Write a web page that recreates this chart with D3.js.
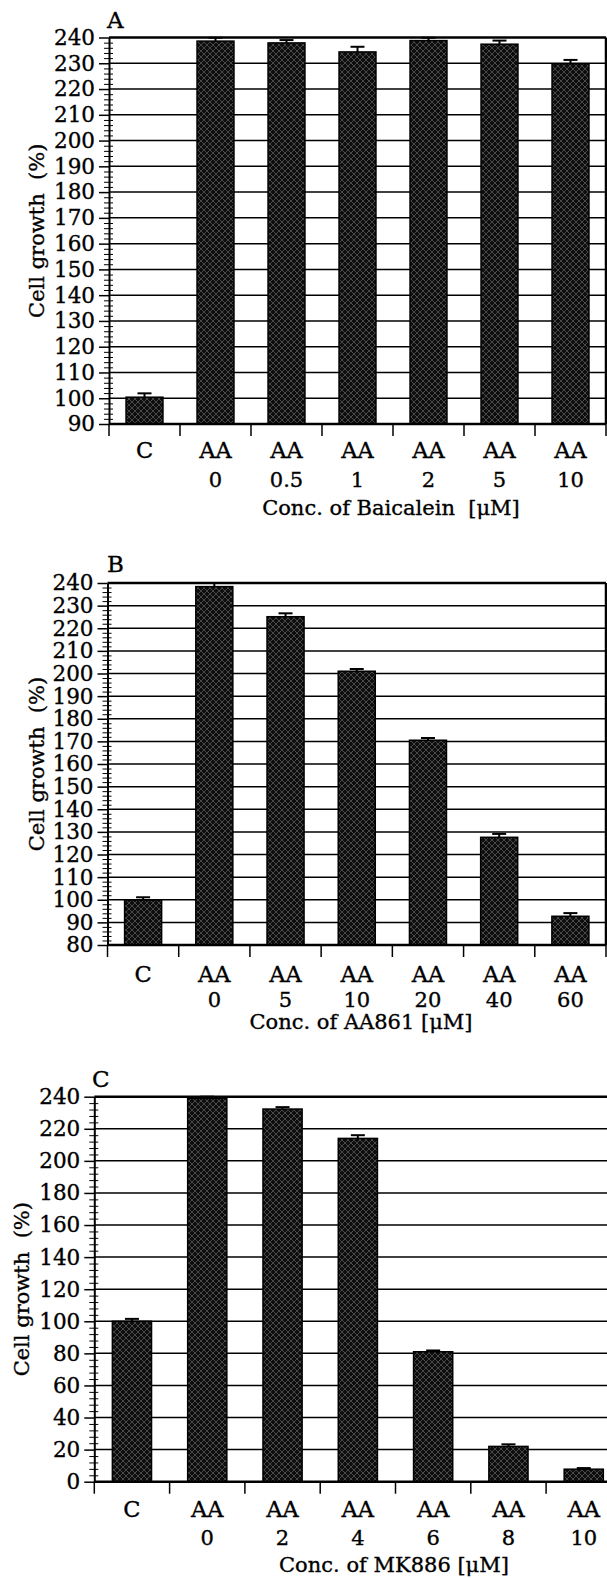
<!DOCTYPE html>
<html>
<head>
<meta charset="utf-8">
<script src="https://cdn.jsdelivr.net/npm/d3@7"></script>
<style>
  body { margin: 0; background: #fff; }
  svg { display: block; font-family: "DejaVu Serif", serif; }
  text { stroke: #000; stroke-width: 0.35px; }
</style>
</head>
<body>
<script>
const width = 607
const height = 1578

// panel A - Baicalein
const catTopA = ['C', 'AA', 'AA', 'AA', 'AA', 'AA', 'AA']
const catBottomA = ['', '0', '0.5', '1', '2', '5', '10']
const valuesA = [100.4, 238.6, 237.9, 234.4, 238.8, 237.4, 229.8]
const errorsA = [1.5, 1.3, 1.1, 2.0, 1.1, 1.4, 1.5]
const ticksA = [90, 100, 110, 120, 130, 140, 150, 160, 170, 180, 190, 200, 210, 220, 230, 240]

// panel B - AA861
const catTopB = ['C', 'AA', 'AA', 'AA', 'AA', 'AA', 'AA']
const catBottomB = ['', '0', '5', '10', '20', '40', '60']
const valuesB = [99.9, 238.4, 225.1, 201.0, 170.5, 127.6, 92.7]
const errorsB = [1.2, 1.6, 1.5, 1.0, 1.0, 1.5, 1.4]
const ticksB = [80, 90, 100, 110, 120, 130, 140, 150, 160, 170, 180, 190, 200, 210, 220, 230, 240]

// panel C - MK886
const catTopC = ['C', 'AA', 'AA', 'AA', 'AA', 'AA', 'AA']
const catBottomC = ['', '0', '2', '4', '6', '8', '10']
const valuesC = [100.0, 239.0, 232.3, 214.0, 81.0, 22.0, 7.8]
const errorsC = [1.5, 1.0, 1.2, 2.0, 0.8, 1.3, 0.7]
const ticksC = [0, 20, 40, 60, 80, 100, 120, 140, 160, 180, 200, 220, 240]

let svg = d3.select('body')
            .append('svg')
            .attr('width', width)
            .attr('height', height)

let defs = svg.append('defs')
let pat = defs.append('pattern')
              .attr('id', 'hatch')
              .attr('patternUnits', 'userSpaceOnUse')
              .attr('width', 6)
              .attr('height', 6)
pat.append('rect').attr('width', 6).attr('height', 6).attr('fill', '#0e0e0e')
pat.append('path')
   .attr('d', 'M0,0 L6,6 M6,0 L0,6 M-1,5 L1,7 M5,-1 L7,1')
   .attr('stroke', '#6e6e6e')
   .attr('stroke-width', 0.6)

function drawPanel(p) {
  let g = svg.append('g')

  let x = d3.scaleBand().domain(d3.range(p.values.length)).range([p.left, p.right])
  let y = d3.scaleLinear().domain(p.domain).range([p.bottom, p.top])
  let bw = x.bandwidth()

  // grid lines
  g.selectAll('.grid')
   .data(p.ticks)
   .enter()
   .append('line')
   .attr('x1', p.left).attr('x2', p.right)
   .attr('y1', d => y(d)).attr('y2', d => y(d))
   .attr('stroke', '#000')
   .attr('stroke-width', d => d === p.domain[1] ? 2.5 : 1.5)

  // right border
  g.append('line')
   .attr('x1', p.right).attr('x2', p.right)
   .attr('y1', y(p.domain[1])).attr('y2', y(p.domain[0]))
   .attr('stroke', '#000').attr('stroke-width', 2.5)

  // bars
  g.selectAll('.bar')
   .data(p.values)
   .enter()
   .append('rect')
   .attr('x', (d, i) => x(i) + bw * 0.24)
   .attr('y', d => y(d))
   .attr('width', bw * 0.52)
   .attr('height', d => y(p.domain[0]) - y(d))
   .attr('fill', 'url(#hatch)')
   .attr('stroke', '#000')
   .attr('stroke-width', 1.5)

  // error bars (upper half only)
  g.selectAll('.err')
   .data(p.values)
   .enter()
   .append('line')
   .attr('x1', (d, i) => x(i) + bw / 2).attr('x2', (d, i) => x(i) + bw / 2)
   .attr('y1', d => y(d)).attr('y2', (d, i) => y(d + p.errors[i]))
   .attr('stroke', '#000').attr('stroke-width', 2)
  g.selectAll('.cap')
   .data(p.values)
   .enter()
   .append('line')
   .attr('x1', (d, i) => x(i) + bw / 2 - 7).attr('x2', (d, i) => x(i) + bw / 2 + 7)
   .attr('y1', (d, i) => y(d + p.errors[i])).attr('y2', (d, i) => y(d + p.errors[i]))
   .attr('stroke', '#000').attr('stroke-width', 2)

  // y axis
  let yAxis = d3.axisLeft(y).tickValues(p.ticks).tickSize(10).tickSizeOuter(0).tickPadding(4)
  let gy = g.append('g')
            .attr('transform', `translate(${p.left}, 0)`)
            .call(yAxis)
  gy.select('.domain').attr('stroke-width', 2)
  gy.selectAll('.tick line').attr('stroke-width', 1.5)
  gy.selectAll('.tick text')
    .attr('font-family', '"DejaVu Serif", serif')
    .attr('font-size', 21.5)
    .attr('fill', '#000')

  let minor = d3.range(p.domain[0], p.domain[1] + 0.01, p.minorStep).filter(v => !p.ticks.includes(v))
  let gm = g.append('g')
            .attr('transform', `translate(${p.left + 4}, 0)`)
            .call(d3.axisLeft(y).tickValues(minor).tickSize(9).tickFormat(''))
  gm.select('.domain').remove()
  gm.selectAll('.tick line').attr('stroke-width', 1)

  // x axis line and category separators
  g.append('line')
   .attr('x1', p.left).attr('x2', p.right)
   .attr('y1', y(p.domain[0])).attr('y2', y(p.domain[0]))
   .attr('stroke', '#000').attr('stroke-width', 2.5)
  let seps = d3.range(p.values.length + 1)
  g.selectAll('.sep')
   .data(seps)
   .enter()
   .append('line')
   .attr('x1', d => p.left + d * bw).attr('x2', d => p.left + d * bw)
   .attr('y1', y(p.domain[0])).attr('y2', y(p.domain[0]) + 12)
   .attr('stroke', '#000').attr('stroke-width', 1.5)

  // category labels
  g.selectAll('.cat1')
   .data(p.catTop)
   .enter()
   .append('text')
   .attr('x', (d, i) => x(i) + bw / 2)
   .attr('y', p.row1)
   .attr('text-anchor', 'middle')
   .attr('font-size', 22.5)
   .text(d => d)
  g.selectAll('.cat2')
   .data(p.catBottom)
   .enter()
   .append('text')
   .attr('x', (d, i) => x(i) + bw / 2)
   .attr('y', p.row2)
   .attr('text-anchor', 'middle')
   .attr('font-size', 21)
   .text(d => d)

  // titles
  g.append('text')
   .attr('x', p.titleX)
   .attr('y', p.titleY)
   .attr('text-anchor', 'middle')
   .attr('font-size', 21)
   .style('white-space', 'pre')
   .text(p.title)

  g.append('text')
   .attr('transform', `translate(${p.ylabelX}, ${(p.top + p.bottom) / 2}) rotate(-90)`)
   .attr('text-anchor', 'middle')
   .attr('dy', '0.35em')
   .attr('font-size', 21)
   .style('white-space', 'pre')
   .text('Cell growth  (%)')

  g.append('text')
   .attr('x', p.letterX)
   .attr('y', p.letterY)
   .attr('font-size', 23)
   .text(p.letter)
}

drawPanel({
  values: valuesA, errors: errorsA, ticks: ticksA, catTop: catTopA, catBottom: catBottomA,
  domain: [90, 240], minorStep: 2,
  left: 109, right: 606, top: 37.5, bottom: 424,
  row1: 458, row2: 487, titleX: 391, titleY: 515, title: 'Conc. of Baicalein  [μM]',
  ylabelX: 37, letter: 'A', letterX: 107, letterY: 28
})

drawPanel({
  values: valuesB, errors: errorsB, ticks: ticksB, catTop: catTopB, catBottom: catBottomB,
  domain: [80, 240], minorStep: 2,
  left: 107.5, right: 606, top: 583, bottom: 945,
  row1: 982, row2: 1007, titleX: 361, titleY: 1029, title: 'Conc. of AA861 [μM]',
  ylabelX: 37, letter: 'B', letterX: 107, letterY: 572
})

drawPanel({
  values: valuesC, errors: errorsC, ticks: ticksC, catTop: catTopC, catBottom: catBottomC,
  domain: [0, 240], minorStep: 4,
  left: 94.3, right: 621.4, top: 1096.7, bottom: 1481.7,
  row1: 1517, row2: 1545, titleX: 394, titleY: 1572, title: 'Conc. of MK886 [μM]',
  ylabelX: 22, letter: 'C', letterX: 92, letterY: 1087
})
</script>
</body>
</html>
